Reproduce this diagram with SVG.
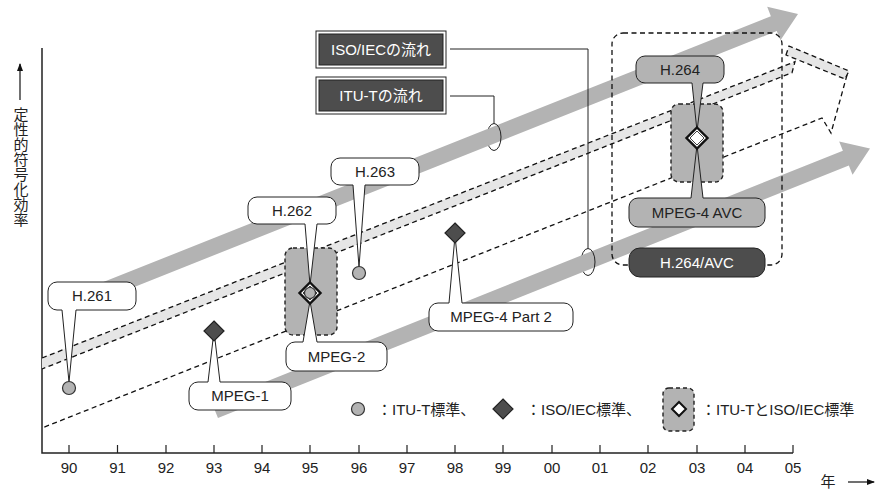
<svg xmlns="http://www.w3.org/2000/svg" width="882" height="489" viewBox="0 0 882 489">
<style>
.ax{stroke:#222;stroke-width:1.5;fill:none}
.tk{stroke:#222;stroke-width:1.2}
.dash{stroke:#111;stroke-width:1.3;stroke-dasharray:5 3.5;fill:none}
.t{font-family:"Liberation Sans","Noto Sans CJK JP",sans-serif;font-size:15px;fill:#222}
.m{text-anchor:middle}
.w{fill:#fff}
.call{fill:#fff;stroke:#222;stroke-width:1}
.callg{fill:#b3b3b3;stroke:#222;stroke-width:1}
.dark{fill:#4d4d4d;stroke:#222;stroke-width:1}
.grp{fill:#b3b3b3;stroke:#222;stroke-dasharray:4 3;stroke-width:1.4}
.band{fill:#b3b3b3}
.lb{fill:#e6e6e6}
.ln{stroke:#222;stroke-width:1;fill:none}
.dot{fill:#b3b3b3;stroke:#333;stroke-width:1.2}
.iso{fill:#4d4d4d;stroke:#222;stroke-width:1.2}
.both{fill:#fff;stroke:#111;stroke-width:2.4}
</style>
<defs>
<marker id="ah" markerWidth="8" markerHeight="8" refX="7" refY="4" orient="auto" markerUnits="userSpaceOnUse">
<path d="M0,1 L8,4 L0,7 Z" fill="#111"/>
</marker>
</defs>

<!-- axes -->
<g id="axes">
<path class="ax" d="M42,48 V453 H793"/>
<g class="tk">
<path d="M69,453V445M117.5,453V445M166,453V445M214,453V445M262,453V445M310,453V445M359,453V445M407,453V445M455,453V445M503,453V445M552,453V445M600,453V445M648,453V445M697,453V445M745,453V445M793,453V445"/>
</g>
<g class="t m">
<text x="69" y="472.5">90</text><text x="117.5" y="472.5">91</text><text x="166" y="472.5">92</text><text x="214" y="472.5">93</text><text x="262" y="472.5">94</text><text x="310" y="472.5">95</text><text x="359" y="472.5">96</text><text x="407" y="472.5">97</text><text x="455" y="472.5">98</text><text x="503" y="472.5">99</text><text x="552" y="472.5">00</text><text x="600" y="472.5">01</text><text x="648" y="472.5">02</text><text x="697" y="472.5">03</text><text x="745" y="472.5">04</text><text x="793" y="472.5">05</text>
</g>
<text class="t m" x="828" y="487">年</text>
<line x1="848" y1="482" x2="874" y2="482" stroke="#111" stroke-width="1.2" marker-end="url(#ah)"/>
<text class="t" x="20" y="107" style="writing-mode:vertical-rl;text-orientation:upright">定性的符号化効率</text>
<line x1="20" y1="100" x2="20" y2="64" stroke="#111" stroke-width="1.2" marker-end="url(#ah)"/>
</g>

<!-- ring back halves -->
<g id="ring-back" class="ln">
<path d="M494,123.5 A7,13.5 0 0 0 494,150.5"/>
<path d="M588,248.5 A7,13.5 0 0 0 588,275.5"/>
</g>

<!-- ITU-T flow arrow -->
<g id="itu-flow">
<polygon class="band" points="92.05,286.56 770.88,16.15 767.19,6.86 798,14 780.47,40.32 776.78,31.03 97.95,301.44"/>
</g>
<!-- ISO/IEC flow arrow -->
<g id="iso-flow">
<polygon class="band" points="212.03,403.17 842.89,150.73 839.17,141.45 870,148.5 852.55,174.87 848.83,165.59 217.97,418.03"/>
</g>

<!-- joint dashed arrow -->
<g id="joint-flow">
<polygon class="lb" points="42,358 795,61.7 792,72.7 42,369"/>
<path class="dash" d="M42,358 L795,61.7 L792,72.7 L42,369"/>
<polygon class="lb" points="789,46 849,71 845,79 786,55"/>
<path class="dash" d="M786,55 L789,46 L849,71 L845,79 Z"/>
<path class="dash" d="M847,75 L831,133 L822,118 L42,428"/>
</g>

<!-- connectors -->
<g id="connectors" class="ln">
<path d="M450,96 H494 V123.5"/>
<path d="M494,123.5 A7,13.5 0 0 1 494,150.5"/>
<path d="M450,49 H588 V248.5"/>
<path d="M588,248.5 A7,13.5 0 0 1 588,275.5"/>
</g>

<!-- H.264 / AVC group box -->
<g id="avc-box">
<rect class="dash" x="612" y="33" width="170" height="232" rx="11"/>
</g>

<g id="std-95-box"><rect class="grp" x="285" y="248" width="52" height="87" rx="8"/></g>
<g id="std-03-box"><rect class="grp" x="671" y="104" width="52" height="78" rx="8"/></g>

<!-- callouts -->
<g id="h261">
<path class="call" d="M57,282 H127 A9,9 0 0 1 136,291 V301 A9,9 0 0 1 127,310 H76 L69,382 L62,310 H57 A9,9 0 0 1 48,301 V291 A9,9 0 0 1 57,282 Z"/>
<text class="t m" x="92" y="301.3">H.261</text>
<circle class="dot" cx="69" cy="388" r="6.5"/>
</g>
<g id="h262">
<path class="call" d="M257,197 H327 A9,9 0 0 1 336,206 V215 A9,9 0 0 1 327,224 H317 L310,285 L305,224 H257 A9,9 0 0 1 248,215 V206 A9,9 0 0 1 257,197 Z"/>
<text class="t m" x="292" y="215.8">H.262</text>
</g>
<g id="mpeg2">
<path class="call" d="M295,342 H303 L310,301 L317,342 H378 A9,9 0 0 1 387,351 V362 A9,9 0 0 1 378,371 H295 A9,9 0 0 1 286,362 V351 A9,9 0 0 1 295,342 Z"/>
<text class="t m" x="336.5" y="361.8">MPEG-2</text>
</g>
<g id="h263">
<path class="call" d="M340,158 H410 A9,9 0 0 1 419,167 V176 A9,9 0 0 1 410,185 H365 L359,267 L353,185 H340 A9,9 0 0 1 331,176 V167 A9,9 0 0 1 340,158 Z"/>
<text class="t m" x="375" y="176.8">H.263</text>
<circle class="dot" cx="359" cy="273" r="6.5"/>
</g>
<g id="mpeg1">
<path class="call" d="M198,382 H208 L214,331 L220,382 H282 A9,9 0 0 1 291,391 V401 A9,9 0 0 1 282,410 H198 A9,9 0 0 1 189,401 V391 A9,9 0 0 1 198,382 Z"/>
<text class="t m" x="240" y="401.3">MPEG-1</text>
<path class="iso" d="M214,321 L224,331 L214,341 L204,331 Z"/>
</g>
<g id="mpeg4p2">
<path class="call" d="M438,303 H449 L455,236 L462,303 H564 A9,9 0 0 1 573,312 V322 A9,9 0 0 1 564,331 H438 A9,9 0 0 1 429,322 V312 A9,9 0 0 1 438,303 Z"/>
<text class="t m" x="501" y="322.3">MPEG-4 Part 2</text>
<path class="iso" d="M455,223 L465,233 L455,243 L445,233 Z"/>
</g>
<g id="h264">
<path class="callg" d="M645,56 H715 A9,9 0 0 1 724,65 V74 A9,9 0 0 1 715,83 H703 L697,131 L692,83 H645 A9,9 0 0 1 636,74 V65 A9,9 0 0 1 645,56 Z"/>
<text class="t m" x="680" y="74.8">H.264</text>
</g>
<g id="mpeg4avc">
<path class="callg" d="M638,198 H691 L697,145 L703,198 H756 A9,9 0 0 1 765,207 V218 A9,9 0 0 1 756,227 H638 A9,9 0 0 1 629,218 V207 A9,9 0 0 1 638,198 Z"/>
<text class="t m" x="697" y="217.8">MPEG-4 AVC</text>
</g>
<g id="h264avc">
<rect class="dark" x="629" y="248" width="136" height="29" rx="11"/>
<text class="t m w" x="697" y="267.8">H.264/AVC</text>
</g>

<!-- joint standard markers -->
<g id="std-95">
<path class="both" d="M310,282.5 L320.5,293 L310,303.5 L299.5,293 Z"/>
<path d="M310,286 L317,293 L310,300 L303,293 Z" fill="none" stroke="#111" stroke-width="0.8"/>
<circle class="dot" cx="310" cy="293" r="5.5"/>
</g>
<g id="std-03">
<path class="both" d="M697,127.5 L707.5,138 L697,148.5 L686.5,138 Z"/>
<path d="M697,131 L704,138 L697,145 L690,138 Z" fill="#fff" stroke="#111" stroke-width="0.8"/>
</g>

<!-- flow labels -->
<g id="iso-label">
<rect x="316" y="31" width="130" height="37" fill="#fff" stroke="#222" stroke-width="1"/>
<rect class="dark" x="319" y="34" width="124" height="31"/>
<text class="t m w" x="381" y="55">ISO/IECの流れ</text>
</g>
<g id="itu-label">
<rect x="316" y="77" width="130" height="37" fill="#fff" stroke="#222" stroke-width="1"/>
<rect class="dark" x="319" y="80" width="124" height="31"/>
<text class="t m w" x="381" y="101">ITU-Tの流れ</text>
</g>

<!-- legend -->
<g id="legend">
<circle class="dot" cx="358" cy="409" r="6.5"/>
<text class="t" x="377" y="414.5">：ITU-T標準、</text>
<path class="iso" d="M503,399 L513,409 L503,419 L493,409 Z"/>
<text class="t" x="526" y="414.5">：ISO/IEC標準、</text>
<rect class="grp" x="663" y="388" width="31" height="43" rx="6"/>
<path d="M679,402 L686,409 L679,416 L672,409 Z" fill="#fff" stroke="#111" stroke-width="2"/>
<text class="t" x="701" y="414.5">：ITU-TとISO/IEC標準</text>
</g>
</svg>
